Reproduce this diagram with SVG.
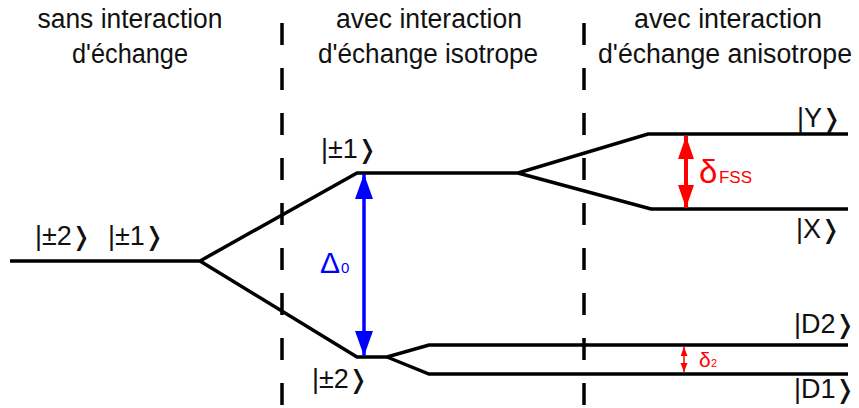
<svg xmlns="http://www.w3.org/2000/svg" width="859" height="408" viewBox="0 0 859 408">
<style>
text{font-family:"Liberation Sans",Arial,"DejaVu Sans",sans-serif;fill:#111}
.h{font-size:27px;text-anchor:middle}
.k{font-size:27px}
.b{font-family:"DejaVu Sans",sans-serif;font-size:25px}
.lv{fill:none;stroke:#000;stroke-width:3.5;stroke-linejoin:miter}
.dash{stroke:#000;stroke-width:3.5;stroke-dasharray:22 23}
</style>
<defs>
<marker id="hb" markerUnits="userSpaceOnUse" markerWidth="26" markerHeight="20" refX="25" refY="9" orient="auto-start-reverse"><path d="M0,0 L25,9 L0,18 z" fill="#0000ff"/></marker>
<marker id="hr" markerUnits="userSpaceOnUse" markerWidth="24" markerHeight="18" refX="23" refY="8" orient="auto-start-reverse"><path d="M0,0 L23,8 L0,16 z" fill="#ff0000"/></marker>
<marker id="hs" markerUnits="userSpaceOnUse" markerWidth="10" markerHeight="8" refX="9" refY="3.5" orient="auto-start-reverse"><path d="M0,0 L9,3.5 L0,7 z" fill="#ff0000"/></marker>
</defs>
<g id="headers">
<text class="h" x="130" y="28" textLength="185" lengthAdjust="spacingAndGlyphs">sans interaction</text>
<text class="h" x="130" y="63" textLength="116" lengthAdjust="spacingAndGlyphs">d'échange</text>
<text class="h" x="429" y="28" textLength="186" lengthAdjust="spacingAndGlyphs">avec interaction</text>
<text class="h" x="428" y="63" textLength="220" lengthAdjust="spacingAndGlyphs">d'échange isotrope</text>
<text class="h" x="728" y="28" textLength="188" lengthAdjust="spacingAndGlyphs">avec interaction</text>
<text class="h" x="725" y="63" textLength="254" lengthAdjust="spacingAndGlyphs">d'échange anisotrope</text>
</g>
<g id="separators">
<line class="dash" x1="282" y1="23" x2="282" y2="408"/>
<line class="dash" x1="584" y1="23" x2="584" y2="408"/>
</g>
<g id="connectors">
<polyline class="lv" points="10,261 200,261 357,173 518,173 648,134 848,134"/>
<polyline class="lv" points="200,261 357,357 387,357 429,345 848,345"/>
<polyline class="lv" points="518,173 651,209 848,209"/>
<polyline class="lv" points="387,357 429,374 848,374"/>
</g>
<g id="level-left"><text class="k" x="35" y="245">|±2<tspan class="b" dx="-1">❭</tspan></text><text class="k" x="108" y="245">|±1<tspan class="b" dx="-1">❭</tspan></text></g>
<g id="level-pm1"><text class="k" x="321" y="158">|±1<tspan class="b" dx="-1">❭</tspan></text></g>
<g id="level-pm2"><text class="k" x="312" y="388">|±2<tspan class="b" dx="-1">❭</tspan></text></g>
<g id="level-Y"><text class="k" x="797" y="127">|Y<tspan class="b" dx="-1">❭</tspan></text></g>
<g id="level-X"><text class="k" x="796" y="238">|X<tspan class="b" dx="-1">❭</tspan></text></g>
<g id="level-D2"><text class="k" x="794" y="333">|D2<tspan class="b" dx="-1">❭</tspan></text></g>
<g id="level-D1"><text class="k" x="794" y="398">|D1<tspan class="b" dx="-1">❭</tspan></text></g>
<g id="delta0">
<line x1="364" y1="174" x2="364" y2="356" stroke="#0000ff" stroke-width="3.5" marker-start="url(#hb)" marker-end="url(#hb)"/>
<text x="320" y="273" style="font-size:30px;fill:#0000ff">Δ</text><text x="341" y="273" style="font-size:15px;fill:#0000ff">0</text>
</g>
<g id="deltaFSS">
<line x1="686" y1="136" x2="686" y2="208" stroke="#ff0000" stroke-width="4" marker-start="url(#hr)" marker-end="url(#hr)"/>
<text x="699" y="183" style="font-size:33px;fill:#ff0000">δ</text><text x="719" y="183" style="font-size:16px;fill:#ff0000" textLength="33" lengthAdjust="spacingAndGlyphs">FSS</text>
</g>
<g id="delta2">
<line x1="684" y1="347" x2="684" y2="372" stroke="#ff0000" stroke-width="1.5" marker-start="url(#hs)" marker-end="url(#hs)"/>
<text x="699" y="367" style="font-size:21px;fill:#ff0000">δ</text><text x="711" y="367" style="font-size:11px;fill:#ff0000">2</text>
</g>
</svg>
